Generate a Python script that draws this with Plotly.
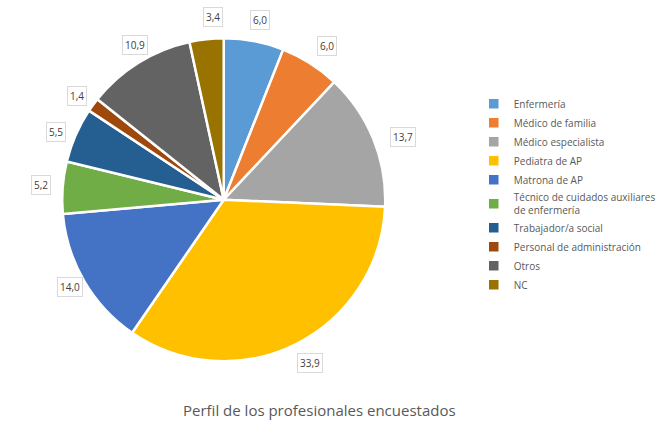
import math
import plotly.graph_objects as go

# Survey respondents by professional profile (%)
categories = [
    "Enfermería",
    "Médico de familia",
    "Médico especialista",
    "Pediatra de AP",
    "Matrona de AP",
    "Técnico de cuidados auxiliares<br>de enfermería",
    "Trabajador/a social",
    "Personal de administración",
    "Otros",
    "NC",
]
shares = [6.0, 6.0, 13.7, 33.9, 14.0, 5.2, 5.5, 1.4, 10.9, 3.4]
palette = ["#5B9BD5", "#ED7D31", "#A5A5A5", "#FFC000", "#4472C4",
           "#70AD47", "#255E91", "#9E480E", "#636363", "#997300"]

W, H = 658, 425
dom_x = [0.09, 0.59]
dom_y = [0.15, 0.91]

fig = go.Figure(go.Pie(
    labels=categories,
    values=shares,
    sort=False,
    direction="clockwise",
    rotation=0,
    marker=dict(colors=palette, line=dict(color="white", width=2.5)),
    textinfo="none",
    hoverinfo="label+value",
    domain=dict(x=dom_x, y=dom_y),
))

# value labels placed just outside each slice's mid angle
cx = (dom_x[0] + dom_x[1]) / 2 * W
cy = (dom_y[0] + dom_y[1]) / 2 * H
radius = min((dom_x[1] - dom_x[0]) * W, (dom_y[1] - dom_y[0]) * H) / 2
total = sum(shares)
cum = 0.0
annotations = []
for v in shares:
    mid = (cum + v / 2) / total * 2 * math.pi
    cum += v
    r = radius + 32
    px = cx + r * math.sin(mid)
    py = cy + r * math.cos(mid)
    annotations.append(dict(
        x=px / W, y=py / H, xref="paper", yref="paper",
        text=f"{v:.1f}".replace(".", ","), showarrow=False,
        font=dict(family="Open Sans, Arial", size=10, color="#404040"),
        bgcolor="white", bordercolor="#D9D9D9", borderwidth=1, borderpad=2,
    ))

annotations.append(dict(
    x=0.485, y=0.035, xref="paper", yref="paper",
    xanchor="center", yanchor="middle",
    text="Perfil de los profesionales encuestados", showarrow=False,
    font=dict(family="Open Sans, Arial", size=15, color="#595959"),
))

fig.update_layout(
    width=W, height=H,
    margin=dict(l=0, r=0, t=0, b=0, autoexpand=False),
    paper_bgcolor="white",
    showlegend=True,
    legend=dict(
        x=0.72, y=0.79, xanchor="left", yanchor="top",
        font=dict(family="Open Sans, Arial", size=10, color="#595959"),
        bgcolor="rgba(0,0,0,0)",
        tracegroupgap=0,
    ),
    annotations=annotations,
)

fig.write_html("out.html")
